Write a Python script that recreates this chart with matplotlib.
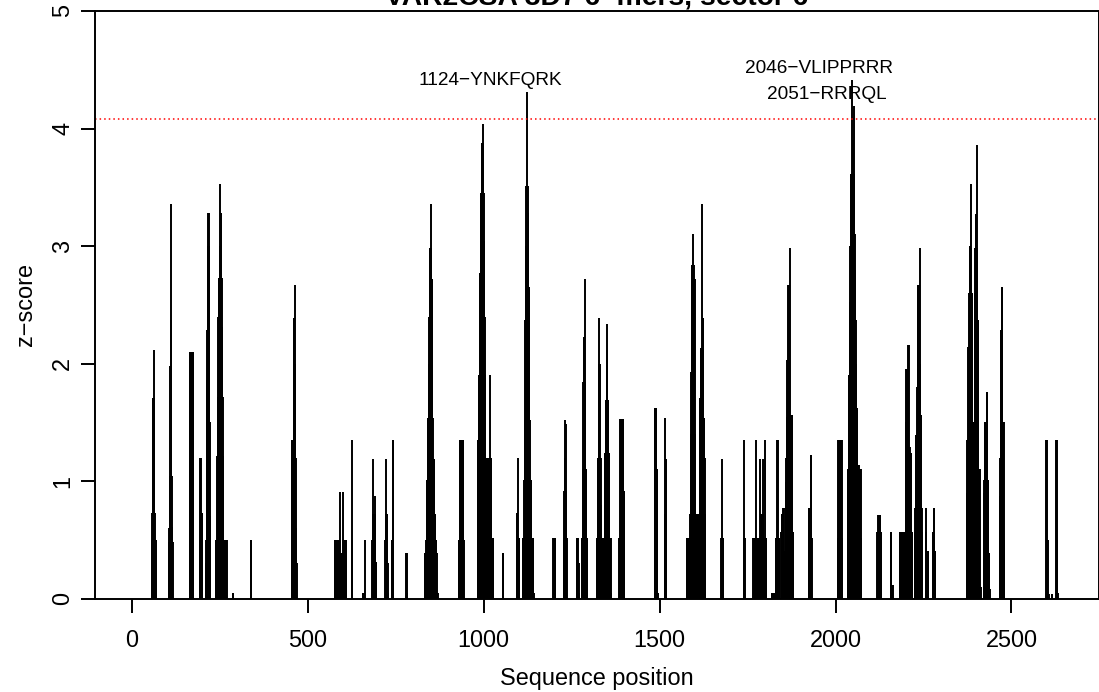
import numpy as np
import matplotlib
matplotlib.use("Agg")
import matplotlib.pyplot as plt

# ---- data ---------------------------------------------------------------
seq_length = 2643
threshold = 4.08

# first sequence position of each scored stretch and its per-position z-scores
cluster_starts = [57, 105, 164, 193, 211, 238, 287, 339, 455, 576, 625, 656,
                  683, 720, 739, 780, 833, 930, 983, 1054, 1094, 1112, 1198,
                  1228, 1265, 1279, 1321, 1340, 1385, 1486, 1514, 1578, 1586,
                  1675, 1740, 1766, 1818, 1830, 1846, 1857, 1924, 2007, 2034,
                  2119, 2157, 2183, 2198, 2226, 2257, 2277, 2373, 2421, 2466,
                  2599, 2614, 2627]
cluster_scores = [
    [0.5, 0.73, 1.24, 1.71, 1.71, 2.12, 1.71, 1.24, 0.73, 0.5, 0.5, 0.5, 0.5],
    [0.48, 0.48, 0.6, 1.04, 1.98, 2.37, 3.36, 1.96, 1.04, 0.61, 0.61, 0.48],
    [2.1, 2.1, 2.1, 2.1, 2.1, 2.1, 2.1, 2.1, 2.1, 2.1, 2.1, 2.1],
    [0.5, 0.5, 1.2, 1.2, 0.73, 0.73, 0.73, 0.5],
    [0.3, 0.5, 1.0, 1.86, 2.29, 3.0, 3.28, 3.28, 3.0, 2.4, 1.5, 0.7, 0.3],
    [0.5, 0.5, 0.5, 0.5, 0.5, 1.21, 1.21, 1.72, 2.4, 2.4, 2.73, 2.73, 3.0,
     3.53, 3.28, 3.28, 3.0, 2.73, 2.31, 2.31, 1.72, 1.21, 0.5, 0.5, 0.5, 0.5,
     0.5, 0.5, 0.5, 0.5, 0.5, 0.5, 0.5],
    [0.05, 0.05],
    [0.5, 0.5],
    [1.35, 1.35, 1.35, 1.35, 1.35, 2.0, 2.39, 2.39, 2.67, 2.0, 1.5, 1.2, 0.6, 0.3],
    [0.5, 0.5, 0.5, 0.5, 0.5, 0.5, 0.5, 0.5, 0.5, 0.5, 0.5, 0.5, 0.5, 0.5,
     0.5, 0.5, 0.91, 0.39, 0.39, 0.39, 0.39, 0.39, 0.39, 0.39, 0.91, 0.5, 0.5,
     0.5, 0.5, 0.5, 0.5, 0.5, 0.5, 0.5],
    [0.5, 1.35],
    [0.05, 0.05, 0.05, 0.05, 0.05, 0.05, 0.5],
    [0.5, 1.19, 0.72, 0.72, 0.72, 0.72, 0.72, 0.87, 0.72, 0.5, 0.31, 0.31, 0.31],
    [0.5, 0.5, 1.19, 0.72, 0.72, 0.72, 0.3, 0.3, 0.05, 0.05],
    [0.5, 0.5, 1.35, 1.35],
    [0.39, 0.39, 0.05],
    [0.39, 0.39, 0.39, 0.39, 0.5, 1.01, 1.01, 1.01, 1.54, 1.54, 1.54, 2.0,
     2.4, 2.98, 2.98, 2.98, 2.98, 3.36, 2.72, 2.72, 2.72, 2.0, 1.54, 1.19,
     1.19, 1.19, 1.19, 0.72, 0.72, 0.72, 0.72, 0.5, 0.5, 0.39, 0.05, 0.05, 0.05],
    [0.5, 0.5, 1.35, 1.35, 1.35, 1.35, 1.35, 1.35, 1.35, 1.35, 1.35, 1.35,
     1.35, 0.5],
    [1.2, 1.35, 1.35, 1.35, 1.9, 1.9, 2.77, 2.77, 2.77, 3.45, 3.45, 3.88,
     3.88, 3.88, 4.04, 3.88, 3.45, 3.45, 3.04, 3.04, 2.4, 1.9, 1.35, 1.2, 1.2,
     1.2, 1.2, 1.2, 1.2, 1.2, 1.2, 1.2, 1.2, 1.2, 1.2, 1.2, 1.9, 1.2, 1.2, 1.2,
     0.52, 0.52, 0.52, 0.52, 0.52],
    [0.39, 0.39],
    [0.52, 0.73, 0.73, 1.2, 0.52, 0.52, 0.52, 0.52],
    [0.52, 0.52, 0.52, 1.01, 1.52, 1.52, 2.37, 2.37, 3.0, 3.51, 3.51, 3.51,
     4.31, 3.51, 3.28, 3.28, 2.65, 2.65, 2.0, 1.52, 1.01, 1.01, 1.01, 1.01,
     0.52, 0.52, 0.52, 0.52, 0.52, 0.52, 0.05],
    [0.52, 0.52, 0.52, 0.52, 0.52, 0.52, 0.52],
    [0.5, 0.92, 1.52, 1.2, 1.2, 1.49, 0.92, 0.92, 0.52],
    [0.52, 0.52, 0.52, 0.3, 0.3, 0.3, 0.05],
    [0.52, 0.52, 1.1, 1.1, 1.84, 1.84, 2.23, 2.23, 2.72, 1.84, 1.1, 1.1, 1.1,
     0.52, 0.52, 0.52],
    [0.52, 0.52, 0.52, 1.2, 1.2, 1.2, 1.6, 2.0, 2.39, 2.0, 1.2, 1.2, 0.8,
     0.52, 0.52],
    [0.52, 0.52, 0.52, 0.52, 0.9, 1.24, 1.24, 1.69, 1.69, 1.9, 2.34, 2.12,
     1.69, 1.69, 1.24, 1.24, 1.24, 0.52, 0.52, 0.52, 0.52, 0.52, 0.05],
    [0.52, 0.52, 0.52, 1.53, 1.53, 1.53, 1.53, 1.53, 1.53, 1.53, 1.53, 1.53,
     0.92, 0.92, 0.92, 0.52],
    [0.52, 1.62, 1.62, 1.62, 1.62, 1.1, 1.1, 1.1, 0.05, 0.05],
    [0.72, 0.72, 1.54, 1.19, 1.19, 0.72],
    [0.52, 0.52, 0.36, 0.36, 0.52, 0.52, 0.52, 0.52],
    [0.52, 0.72, 0.72, 1.4, 1.93, 1.93, 2.84, 2.84, 2.84, 2.84, 3.1, 2.84,
     2.72, 2.72, 2.72, 1.4, 0.72, 0.72, 0.72, 0.72, 0.72, 0.72, 0.72, 0.72,
     0.72, 0.72, 0.72, 0.72, 1.71, 1.71, 1.71, 2.13, 2.13, 2.13, 2.13, 3.36,
     2.39, 2.39, 1.99, 1.54, 1.54, 1.54, 1.2, 0.72, 0.72],
    [0.52, 1.19, 0.52, 0.52, 0.52, 0.52],
    [1.35, 0.52, 0.52],
    [0.52, 0.52, 0.52, 0.52, 0.52, 0.52, 0.52, 1.35, 0.52, 0.52, 0.52, 0.52,
     0.52, 0.52, 0.52, 0.52, 0.52, 0.52, 0.52, 0.52, 1.19, 0.72, 0.72, 0.72,
     0.72, 0.72, 0.72, 0.72, 1.19, 0.52, 0.52, 0.52, 0.52, 0.52, 1.35, 0.52,
     0.52, 0.52],
    [0.05, 0.05, 0.05, 0.05, 0.05, 0.05, 0.05, 0.05],
    [0.52, 0.52, 0.52, 0.52, 1.35, 1.35, 0.52, 0.52, 0.52, 0.52, 0.52],
    [0.57, 0.57, 0.72, 0.72, 0.36, 0.6, 0.77, 0.77],
    [0.41, 0.77, 0.99, 1.2, 1.55, 1.55, 2.03, 2.03, 2.03, 2.67, 2.67, 2.67,
     2.67, 2.98, 1.56, 1.56, 1.56, 1.56, 1.56, 1.56, 1.56, 0.57, 0.57, 0.57],
    [0.77, 0.77, 0.77, 0.77, 0.77, 1.22, 1.22, 0.77, 0.52],
    [0.52, 1.35, 1.35, 1.35, 1.35, 1.35, 1.35, 1.35, 1.35, 1.35, 1.35, 0.52],
    [0.52, 1.1, 1.1, 1.1, 1.9, 1.9, 2.52, 2.52, 3.0, 3.3, 3.61, 3.61, 4.41,
     3.61, 3.61, 3.61, 3.9, 4.19, 3.61, 3.1, 3.1, 2.8, 2.37, 2.37, 2.0, 1.62,
     1.62, 1.62, 1.4, 1.14, 1.14, 1.14, 1.14, 1.1, 1.1, 1.1, 1.1, 1.1, 0.52],
    [0.57, 0.57, 0.57, 0.71, 0.71, 0.71, 0.71, 0.71, 0.57, 0.57, 0.57, 0.05],
    [0.57, 0.57, 0.12, 0.12, 0.12, 0.12],
    [0.57, 0.57, 0.57, 0.57, 0.57, 0.57, 0.57, 0.57, 0.57, 0.57, 0.57, 0.57],
    [0.57, 1.0, 1.5, 1.95, 1.95, 1.95, 1.95, 1.95, 1.95, 2.16, 2.16, 1.29,
     1.29, 1.29, 1.24, 1.24, 1.24, 1.24, 0.57, 0.57],
    [0.57, 0.77, 1.39, 1.39, 1.39, 1.39, 1.8, 2.2, 2.67, 2.67, 2.67, 2.67,
     2.67, 2.98, 2.0, 1.56, 1.56, 1.56, 1.2, 0.77, 0.57, 0.05],
    [0.57, 0.77, 0.41, 0.41, 0.41, 0.41, 0.41],
    [0.57, 0.57, 0.77, 0.77, 0.41, 0.41, 0.41, 0.41],
    [0.9, 1.35, 1.35, 1.35, 2.14, 2.14, 2.14, 2.6, 3.0, 3.0, 3.0, 3.53, 2.98,
     2.6, 2.6, 2.6, 2.1, 1.5, 1.5, 1.5, 1.5, 1.5, 2.0, 2.6, 2.98, 2.98, 3.27,
     3.27, 3.86, 2.98, 2.37, 2.37, 2.37, 1.5, 1.1, 1.1, 1.1, 1.1, 0.1, 0.1],
    [0.5, 0.9, 1.01, 1.5, 1.5, 1.5, 1.5, 1.5, 1.76, 1.76, 1.01, 1.01, 1.01,
     0.39, 0.39, 0.39, 0.08, 0.08],
    [0.87, 0.87, 1.2, 1.2, 2.29, 2.29, 2.29, 2.65, 2.65, 1.5, 1.5, 1.5, 1.5,
     0.5, 0.05],
    [1.35, 1.35, 0.5, 0.5, 0.5, 0.04, 0.04, 0.04],
    [0.04, 0.04, 0.04],
    [1.35, 1.35, 0.5, 0.5, 0.05],
]

# peaks above the threshold and where their labels sit along the sequence
peak_positions = [1124, 2046, 2051]
peak_labels = ["1124\u2212YNKFQRK", "2046\u2212VLIPPRRR", "2051\u2212RRRQL"]
label_x = [1020, 1953, 1976]

x_ticks = [0, 500, 1000, 1500, 2000, 2500]
y_ticks = [0, 1, 2, 3, 4, 5]

# ---- assemble the score profile -----------------------------------------
position = np.arange(1, seq_length + 1)
zscore = np.zeros(seq_length)
for start, scores in zip(cluster_starts, cluster_scores):
    zscore[start - 1:start - 1 + len(scores)] = scores

# ---- figure ---------------------------------------------------------------
plt.rcParams["font.family"] = ["Liberation Sans", "DejaVu Sans"]
W, H = 1099, 692
fig = plt.figure(figsize=(W / 100, H / 100), dpi=100)
ax = fig.add_axes([95 / W, 93.3 / H, 1004 / W, 587.7 / H])

pad_x = 0.04 * (seq_length - 1)
ax.set_xlim(1 - pad_x, seq_length + pad_x)
ax.set_ylim(0, 5)

mask = zscore > 0
ax.vlines(position[mask], 0, zscore[mask], colors="black", linewidth=1.4)

# significance threshold, red dotted
ax.axhline(threshold, color="#ff0000", linewidth=1.1, linestyle=(0, (1, 2)))

for pos, text, lx in zip(peak_positions, peak_labels, label_x):
    ax.text(lx, zscore[pos - 1] + 0.1, text, ha="center", va="center",
            fontsize=13.7, color="black")

for side in ["left", "right", "top", "bottom"]:
    ax.spines[side].set_linewidth(1.4)

ax.set_xticks(x_ticks)
ax.set_xticklabels([str(t) for t in x_ticks])
ax.set_yticks(y_ticks)
ax.set_yticklabels([str(t) for t in y_ticks], rotation=90, va="center")
ax.tick_params(axis="both", direction="out", length=10, width=1.4,
               labelsize=16.9, colors="black")
ax.tick_params(axis="x", pad=12)
ax.tick_params(axis="y", pad=5)

ax.set_xlabel("Sequence position", fontsize=16.9)
ax.xaxis.set_label_coords(0.5, -0.116)
ax.set_ylabel("z\u2212score", fontsize=16.9)
ax.yaxis.set_label_coords(-0.058, 0.5)

ax.set_title("VAR2CSA 3D7 6\u2212mers, sector 6", fontsize=20.3,
             fontweight="bold", pad=5)

fig.savefig("out.png", dpi=100)
